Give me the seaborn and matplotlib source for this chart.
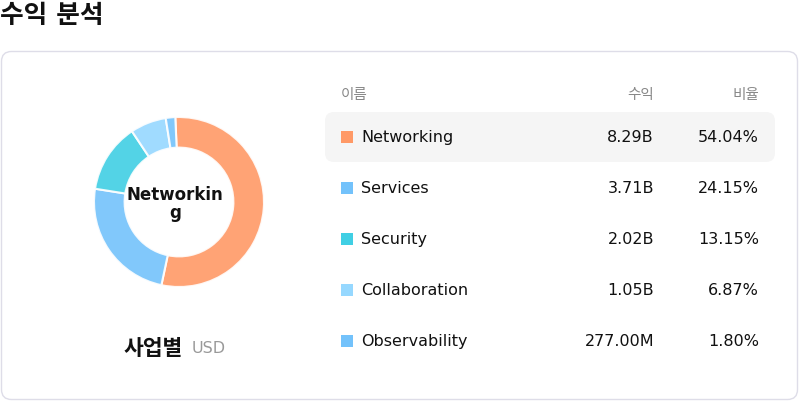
import matplotlib
matplotlib.use("Agg")
import matplotlib.pyplot as plt
from matplotlib.patches import FancyBboxPatch
import seaborn as sns

# ─────────────────────────────────────────────
# DATA
# ─────────────────────────────────────────────
segments = ["Networking", "Services", "Security", "Collaboration", "Observability"]
revenue_b = [8.29, 3.71, 2.02, 1.05, 0.277]
revenue_labels = ["8.29B", "3.71B", "2.02B", "1.05B", "277.00M"]
share_labels = ["54.04%", "24.15%", "13.15%", "6.87%", "1.80%"]
colors = ["#FF9966", "#73C2FB", "#40CFE4", "#96D8FF", "#73C2FB"]

sns.set_theme(style="white")
plt.rcParams["font.family"] = ["DejaVu Sans", "Noto Sans CJK KR"]

fig = plt.figure(figsize=(8.0, 4.02), dpi=100)
fig.patch.set_facecolor("white")

# overlay in pixel coordinates
ax = fig.add_axes([0, 0, 1, 1])
ax.set_xlim(0, 800)
ax.set_ylim(402, 0)
ax.axis("off")

ax.text(0, 16, "수익 분석", fontsize=18.5, fontweight="bold", va="center", ha="left", color="#111111")

card = FancyBboxPatch((1.5, 52.5), 796, 348, boxstyle="round,pad=0,rounding_size=10",
                      facecolor="white", edgecolor="#dedde8", linewidth=1.0)
ax.add_patch(card)

# header
ax.text(341, 95, "이름", fontsize=10.5, color="#888888", va="center", ha="left")
ax.text(654, 95, "수익", fontsize=10.5, color="#888888", va="center", ha="right")
ax.text(759, 95, "비율", fontsize=10.5, color="#888888", va="center", ha="right")

# highlight row
hl = FancyBboxPatch((325, 113), 450, 50, boxstyle="round,pad=0,rounding_size=9",
                    facecolor="#f5f5f5", edgecolor="none")
ax.add_patch(hl)

row_y = [138, 189, 240, 291, 342]
for i, name in enumerate(segments):
    y = row_y[i]
    ax.add_patch(plt.Rectangle((341, y - 6), 12, 12, facecolor=colors[i], edgecolor="none"))
    ax.text(361, y, name, fontsize=11.5, color="#111111", va="center", ha="left")
    ax.text(654, y, revenue_labels[i], fontsize=11.5, color="#111111", va="center", ha="right")
    ax.text(759, y, share_labels[i], fontsize=11.5, color="#111111", va="center", ha="right")

# donut
cx, cy, r = 179, 203, 85
pax = fig.add_axes([(cx - r) / 800, (402 - cy - r) / 402, 2 * r / 800, 2 * r / 402])
pax.pie(revenue_b, colors=colors, startangle=92.5, counterclock=False,
        wedgeprops=dict(width=0.36, edgecolor="white", linewidth=1.5, alpha=0.9))
pax.set_xlim(-1.0, 1.0)
pax.set_ylim(-1.0, 1.0)
pax.set_aspect("equal")
pax.axis("off")

ax.text(cx - 4, cy + 1, "Networkin\ng", fontsize=12, fontweight="bold", color="#111111",
        va="center", ha="center", linespacing=1.0)

ax.text(183, 349, "사업별", fontsize=15.5, fontweight="bold", color="#111111", va="center", ha="right")
ax.text(192, 349, "USD", fontsize=11.5, color="#999999", va="center", ha="left")

plt.savefig("out.png", dpi=100)
plt.close()
